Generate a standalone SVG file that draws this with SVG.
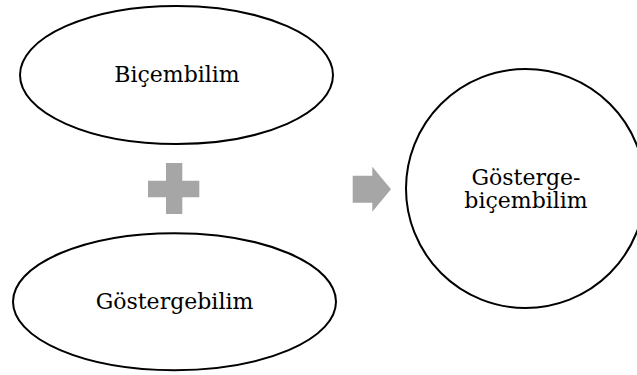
<svg xmlns="http://www.w3.org/2000/svg" width="637" height="375" viewBox="0 0 637 375">
<style>
.node{fill:#ffffff;stroke:#000000;stroke-width:2}
.lbl{font-family:"DejaVu Serif","Liberation Serif",serif;font-size:22px;fill:#000000;text-anchor:middle}
.sym{fill:#a6a6a6;stroke:none}
</style>
<rect width="637" height="375" fill="#ffffff"/>
<g id="connectors">
<path class="sym" d="M166,163 H182.3 V180.7 H199.3 V197.3 H182.3 V214 H166 V197.3 H148 V180.7 H166 Z"/>
<path class="sym" d="M352.7,175.7 H372.3 V166.7 L391,189.2 L372.3,211.7 V202.7 H352.7 Z"/>
</g>
<g id="node-bicembilim">
<ellipse class="node" cx="176.5" cy="75" rx="156.5" ry="69"/>
<text class="lbl" x="177" y="82">Biçembilim</text>
</g>
<g id="node-gostergebilim">
<ellipse class="node" cx="174.5" cy="301.7" rx="161.5" ry="68.5"/>
<text class="lbl" x="174.5" y="309">Göstergebilim</text>
</g>
<g id="node-gosterge-bicembilim">
<circle class="node" cx="525.5" cy="188.5" r="119.5"/>
<text class="lbl" x="526" y="185">Gösterge-</text>
<text class="lbl" x="526" y="208">biçembilim</text>
</g>
</svg>
